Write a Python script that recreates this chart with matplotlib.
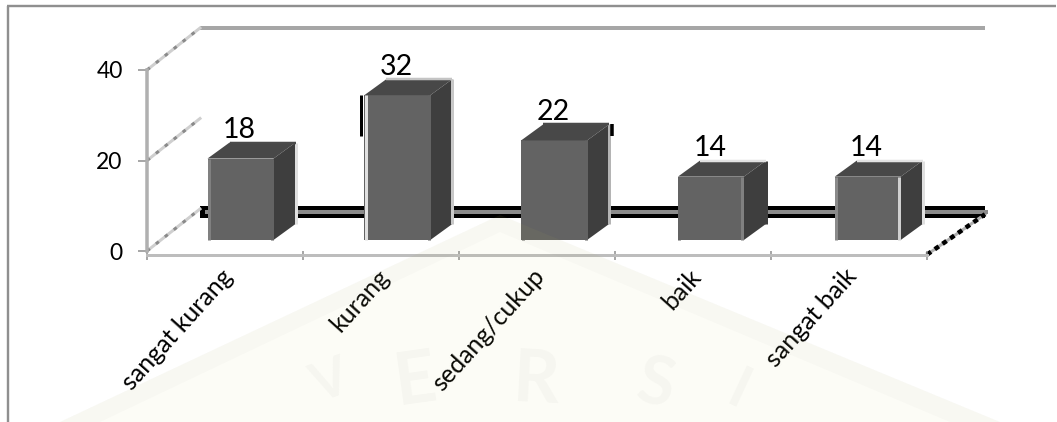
import matplotlib
matplotlib.use("Agg")
import matplotlib.pyplot as plt
from matplotlib.patches import Polygon

plt.rcParams['font.family'] = ['Lato', 'DejaVu Sans']

categories = ['sangat kurang', 'kurang', 'sedang/cukup', 'baik', 'sangat baik']
values = [18, 32, 22, 14, 14]
value_ticks = [0, 20, 40]

W, H = 1057, 422
PX = 0.72  # one pixel in points at 100 dpi

fig = plt.figure(figsize=(W / 100, H / 100), dpi=100, facecolor='white')
ax = fig.add_axes([147 / W, 1 - 251 / H, 780 / W, 181 / H])
ax.set_xlim(0, 5)
ax.set_ylim(0, 40)
ax.patch.set_visible(False)

ux = 156.0            # pixels per category
uy = 181.0 / 40       # pixels per unit of value
WALL_DX, WALL_DY = 53 / ux, 42 / uy
FLOOR_Y = 39 / uy
BAR_DX, BAR_DY = 22 / ux, 16 / uy
BAR_Y = 11 / uy
BAR_W = 66 / ux
BAR_STEP = 156.8 / ux
BAR_X0 = (207.5 - 147 + 33) / ux

# Edge highlights of each box: back top, back right, front left, front right
rim_top = ['#4a4a4a', '#c4c4c4', '#4a4a4a', '#e2e2e2', '#e2e2e2']
rim_back = ['#e0e0e0', '#c8c8c8', '#b4b4b4', '#3e3e3e', '#e0e0e0']
rim_left = ['#808080', '#e0e0e0', '#636363', '#636363', '#8a8a8a']
rim_right = ['#636363', '#636363', '#636363', '#808080', '#d0d0d0']


def px_pts(seq):
    return [(x / W, 1 - y / H) for x, y in seq]


# Outer chart frame, in figure pixels
frame = dict(transform=fig.transFigure, color='#8f8f8f', lw=2.4 * PX, solid_capstyle='butt')
fig.add_artist(plt.Line2D([7.5 / W, 7.5 / W], [0, 1 - 6 / H], **frame))
fig.add_artist(plt.Line2D([7 / W, 1056 / W], [1 - 6 / H, 1 - 6 / H], **frame))

# Back wall and floor of the 3D box
ax.plot([WALL_DX, 5 + 58 / ux], [40 + WALL_DY] * 2, color='#a6a6a6', lw=4 * PX, clip_on=False,
        solid_capstyle='butt', zorder=1)
ax.plot([WALL_DX, 5 + 58 / ux], [FLOOR_Y] * 2, color='black', lw=12 * PX, clip_on=False,
        solid_capstyle='butt', zorder=1)
ax.plot([WALL_DX + 5 / ux, 5 + 61 / ux], [FLOOR_Y] * 2, color='#8b8b8b', lw=4 * PX, clip_on=False,
        solid_capstyle='butt', zorder=1.1)

# Side wall gridlines running into the depth of the box
for v in value_ticks:
    xs, ys = [0, WALL_DX], [v, v + WALL_DY]
    ax.plot(xs, ys, color='#cfcfcf', lw=3 * PX, clip_on=False, zorder=1)
    ax.plot(xs, ys, color='#8a8a8a', lw=3 * PX, clip_on=False, zorder=1.1, dashes=(1.2, 2.6))

# Right floor edge
fx, fy = [5, 5 + 58 / ux], [-0.8, FLOOR_Y - 0.5]
ax.plot(fx, fy, color='#b0b0b0', lw=3 * PX, clip_on=False, zorder=1)
ax.plot(fx, fy, color='black', lw=4.5 * PX, clip_on=False, zorder=1.1, dashes=(1.1, 1.0))

# Bars: front faces from the value scale, top and side faces extruded from them
centers = [BAR_X0 + i * BAR_STEP for i in range(len(values))]
ax.bar(centers, values, bottom=BAR_Y, width=BAR_W, color='#636363', linewidth=0,
       clip_on=False, zorder=3)
edge = dict(clip_on=False, zorder=3.2, solid_capstyle='butt')
for i, (c, v) in enumerate(zip(centers, values)):
    l, r = c - BAR_W / 2, c + BAR_W / 2
    b, t = BAR_Y, BAR_Y + v
    ax.add_patch(Polygon([(l, t), (r, t), (r + BAR_DX, t + BAR_DY), (l + BAR_DX, t + BAR_DY)],
                         closed=True, fc='#484848', ec='none', clip_on=False, zorder=3))
    ax.add_patch(Polygon([(r, b), (r + BAR_DX, b + BAR_DY), (r + BAR_DX, t + BAR_DY), (r, t)],
                         closed=True, fc='#3e3e3e', ec='none', clip_on=False, zorder=3))
    ax.plot([r + BAR_DX, r + BAR_DX], [b + BAR_DY, t + BAR_DY], color=rim_back[i], lw=3 * PX, **edge)
    ax.plot([l + BAR_DX, r + BAR_DX], [t + BAR_DY, t + BAR_DY], color=rim_top[i], lw=2.5 * PX, **edge)
    ax.plot([l + 1.5 / ux] * 2, [b, t], color=rim_left[i], lw=3 * PX, **edge)
    ax.plot([r - 1.5 / ux] * 2, [b, t], color=rim_right[i], lw=3 * PX, **edge)
    ax.text(c + BAR_DX / 2 - 12 / ux, t + BAR_DY - 0.1, str(v), fontsize=20.5, color='black',
            ha='center', va='bottom', linespacing=1, zorder=5, clip_on=False)

# Black edge on the left of the tallest bar and on the right of the third
ax.plot([centers[1] - BAR_W / 2 - 3 / ux] * 2, [BAR_Y + 32 - 9, BAR_Y + 32], color='black',
        lw=3 * PX, clip_on=False, zorder=3.3, solid_capstyle='butt')
ax.plot([centers[2] + BAR_W / 2 + BAR_DX + 3 / ux] * 2,
        [BAR_Y + 22 + BAR_DY - 2.5, BAR_Y + 22 + BAR_DY],
        color='black', lw=3.5 * PX, clip_on=False, zorder=3.3, solid_capstyle='butt')

# Axes
for s in ('top', 'right'):
    ax.spines[s].set_visible(False)
ax.spines['left'].set(color='#b0b0b0', linewidth=3.5 * PX, zorder=2)
ax.spines['bottom'].set(color='#bdbdbd', linewidth=3 * PX, position=('outward', 3), zorder=2)
ax.set_yticks(value_ticks)
ax.set_yticklabels([str(v) for v in value_ticks], fontsize=16.5)
ax.tick_params(axis='y', length=9 * PX, width=1.5 * PX, color='#8c8c8c', pad=11)
ax.set_xticks(range(6))
ax.set_xticklabels([])
ax.tick_params(axis='x', which='major', direction='inout', length=9 * PX, width=1.5 * PX,
               color='#8c8c8c')
ax.set_xticks([i + 0.47 for i in range(5)], minor=True)
ax.set_xticklabels(categories, minor=True, rotation=48, ha='right', va='top',
                   rotation_mode='anchor', fontsize=18)
ax.tick_params(axis='x', which='minor', length=0, pad=7)

# Faint institutional watermark over the lower part of the page
tint = dict(facecolor='#c8c860', alpha=0.05, edgecolor='none', transform=fig.transFigure, zorder=10)
stripe = dict(facecolor='#808080', alpha=0.03, edgecolor='none', transform=fig.transFigure, zorder=10)
fig.add_artist(Polygon(px_pts([(60, 422), (500, 215), (1000, 422)]), closed=True, **tint))
fig.add_artist(Polygon(px_pts([(60, 422), (500, 215), (1000, 422), (950, 422), (500, 232), (100, 422)]),
                       closed=True, **stripe))
for txt, x, y, rot, size in [('V', 330, 382, 20, 38), ('E', 415, 382, 8, 52), ('R', 535, 382, -3, 52),
                             ('S', 655, 386, -12, 48), ('I', 738, 392, -25, 42)]:
    fig.text(x / W, 1 - y / H, txt, fontsize=size, fontweight='bold', color='#808080', alpha=0.05,
             rotation=rot, ha='center', va='center', zorder=10)

fig.savefig('out.png', dpi=100, facecolor='white')
